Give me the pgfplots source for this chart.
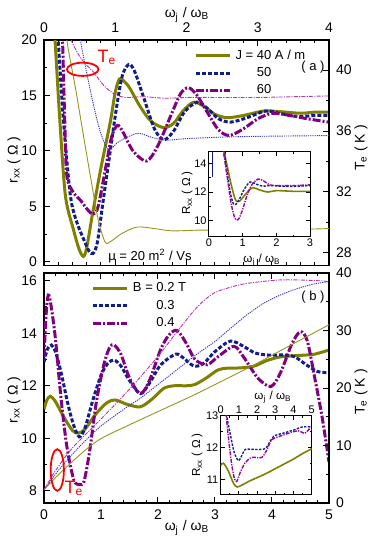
\documentclass[border=0pt]{standalone}
\usepackage{fontspec}
\setmainfont{Liberation Sans}
\usepackage{pgfplots}
\pgfplotsset{compat=1.18}

\definecolor{ol}{RGB}{128,128,0}
\definecolor{bl}{RGB}{16,30,140}
\definecolor{pu}{RGB}{128,0,128}
\definecolor{olt}{RGB}{150,150,30}
\definecolor{blt}{RGB}{50,50,200}
\definecolor{put}{RGB}{180,50,180}

\pgfplotsset{
  panel/.style={scale only axis, tick align=inside,
    axis line style={line width=0.7pt},
    every tick/.style={black, line width=0.5pt},
    major tick length=3pt, minor tick length=1.6pt,
    tick label style={font=\fontsize{7}{8}\selectfont},
    /pgf/number format/assume math mode=true},
  inset/.style={panel, axis background/.style={fill=white},
    major tick length=2pt, minor tick length=1.1pt,
    axis line style={line width=0.5pt},
    tick label style={font=\fontsize{5.5}{6}\selectfont, inner sep=1pt}},
  thick40/.style={ol, line width=1.5pt, smooth},
  thick50/.style={bl, line width=1.5pt, smooth, dash pattern=on 2pt off 1pt},
  thick60/.style={pu, line width=1.5pt, smooth, dash pattern=on 4pt off 1pt on 1pt off 1pt},
  thin40/.style={olt, line width=0.45pt, smooth},
  thin50/.style={blt, line width=0.45pt, smooth, dash pattern=on 0.6pt off 0.5pt},
  thin60/.style={put, line width=0.45pt, smooth, dash pattern=on 2pt off 0.6pt on 0.6pt off 0.6pt},
  leg/.style={legend style={draw=none, fill=none, font=\fontsize{6.5}{7}\selectfont,
      row sep=-1.5pt, inner sep=1pt},
    legend cell align=left,
    legend image code/.code={\draw[##1] (0pt,0pt) -- (17pt,0pt);}},
}

\begin{document}
\begin{tikzpicture}
\useasboundingbox (0,0) rectangle (187pt,271.5pt);

% ---------- panel (a) ----------
\begin{axis}[panel, leg, at={(22pt,138.85pt)}, anchor=south west,
  width=142.5pt, height=112.65pt,
  xmin=0, xmax=4, ymin=-0.3, ymax=20,
  xtick={0,1,2,3,4}, minor x tick num=4,
  ytick={0,5,10,15,20}, minor y tick num=1,
  xticklabel pos=upper, xtick pos=both, ytick pos=left,
  legend style={at={(rel axis cs:0.52,0.985)}, anchor=north west}]
\addplot[thick40] coordinates {(0.13,22) (0.155,20) (0.22,13) (0.30,6.0) (0.41,3.0) (0.49,1.2) (0.553,0.5) (0.6,1.3) (0.68,4.3) (0.80,8.5) (0.93,12.6) (1.0,15.3) (1.06,16.5) (1.12,16.3) (1.2,15.7) (1.35,14.0) (1.5,12.7) (1.68,12.1) (1.82,12.5) (1.95,13.6) (2.10,14.4) (2.25,14.0) (2.4,13.3) (2.57,13.0) (2.8,13.2) (3.08,13.6) (3.3,13.55) (3.6,13.4) (3.8,13.5) (4.0,13.5)};
\addplot[thick50] coordinates {(0.18,22) (0.2,20) (0.27,13) (0.37,6.0) (0.46,3.6) (0.56,2.0) (0.63,1.0) (0.69,0.78) (0.75,1.8) (0.83,5.5) (0.93,10.0) (1.02,14.0) (1.1,16.8) (1.19,17.8) (1.27,17.2) (1.4,14.8) (1.55,12.0) (1.68,11.0) (1.82,11.8) (1.97,13.5) (2.15,14.4) (2.3,13.8) (2.45,12.9) (2.62,12.6) (2.85,13.0) (3.11,13.6) (3.3,13.4) (3.56,13.1) (3.8,13.2) (4.0,13.2)};
\addplot[thick60] coordinates {(0.24,22) (0.26,20) (0.29,13) (0.32,7.8) (0.41,6.3) (0.52,5.5) (0.6,4.8) (0.69,4.3) (0.76,5.0) (0.86,8.3) (0.95,11.3) (1.03,12.3) (1.1,11.8) (1.25,10.0) (1.44,9.1) (1.6,10.5) (1.8,13.5) (1.92,15.2) (2.03,15.7) (2.15,15.0) (2.3,13.4) (2.45,11.9) (2.60,11.4) (2.8,12.0) (3.0,12.9) (3.21,13.4) (3.45,13.2) (3.7,12.9) (4.0,12.6)};
\legend{J = 40 A / m, \phantom{J = }50, \phantom{J = }60}
\end{axis}
\begin{axis}[panel, at={(22pt,138.85pt)}, anchor=south west,
  width=142.5pt, height=112.65pt,
  xmin=0, xmax=4, ymin=27.19, ymax=41.97,
  axis x line=none, axis y line*=right,
  ytick={28,32,36,40}, minor y tick num=1]
\addplot[thin40] coordinates {(0.30,44) (0.32,42) (0.45,38.6) (0.55,35.8) (0.66,32.8) (0.76,30.2) (0.86,28.7) (0.95,28.8) (1.1,29.3) (1.31,29.7) (1.55,29.6) (1.8,29.45) (2.2,29.5) (2.7,29.5) (3.2,29.55) (3.6,29.55) (4.0,29.6)};
\addplot[thin50] coordinates {(0.49,43) (0.51,42) (0.6,39.8) (0.70,37.6) (0.8,35.8) (0.91,34.8) (1.05,35.3) (1.31,35.85) (1.5,35.6) (1.70,35.4) (2.0,35.5) (2.5,35.6) (3.0,35.65) (4.0,35.7)};
\addplot[thin60] coordinates {(0.36,43) (0.38,42) (0.5,40.9) (0.6,40.3) (0.69,39.9) (0.8,39.2) (0.88,38.8) (1.0,38.4) (1.15,38.2) (1.4,38.25) (1.7,38.15) (2.0,38.2) (2.5,38.2) (3.0,38.2) (3.5,38.25) (4.0,38.3)};
\end{axis}

% inset (a)
\begin{axis}[inset, at={(104.5pt,153.15pt)}, anchor=south west,
  width=50.5pt, height=42.5pt,
  xmin=0, xmax=3, ymin=8.9, ymax=14.8,
  xtick={0,1,2,3}, minor x tick num=1,
  ytick={10,12,14}, minor y tick num=1]
\addplot[bl, line width=0.6pt] coordinates {(0.1,14.8) (0.1,13.07)};
\addplot[ol, line width=0.8pt, smooth] coordinates {(0.44,15.2) (0.45,14.8) (0.55,13.7) (0.65,12.6) (0.75,11.7) (0.82,11.35) (0.9,11.35) (1.05,11.75) (1.2,12.15) (1.32,12.3) (1.5,12.15) (1.75,12.0) (2.0,12.1) (2.5,12.05) (3.0,12.05)};
\addplot[bl, line width=0.7pt, smooth, dash pattern=on 1.2pt off 0.7pt] coordinates {(0.44,15.2) (0.45,14.8) (0.55,13.2) (0.63,12.0) (0.72,11.2) (0.8,11.15) (0.9,11.5) (1.05,12.2) (1.22,12.7) (1.4,12.55) (1.6,12.4) (1.8,12.45) (2.2,12.4) (2.6,12.4) (3.0,12.45)};
\addplot[pu!80!magenta, line width=0.7pt, smooth, dash pattern=on 2pt off 0.6pt on 0.6pt off 0.6pt] coordinates {(0.42,15.2) (0.43,14.8) (0.55,12.9) (0.65,11.3) (0.75,10.3) (0.82,10.05) (0.9,10.2) (1.0,10.8) (1.15,11.9) (1.3,12.6) (1.46,12.9) (1.6,12.8) (1.8,12.5) (2.0,12.45) (2.5,12.45) (3.0,12.5)};
\end{axis}

% ---------- panel (b) ----------
\begin{axis}[panel, leg, at={(22pt,20pt)}, anchor=south west,
  width=142.5pt, height=115pt,
  xmin=0, xmax=5, ymin=7.54, ymax=16.29,
  xtick={0,1,2,3,4,5}, minor x tick num=4,
  ytick={8,10,12,14,16}, minor y tick num=1,
  xtick pos=both, ytick pos=left,
  legend style={at={(rel axis cs:0.16,0.985)}, anchor=north west}]
\addplot[thick40] coordinates {(0,11.1) (0.05,11.45) (0.11,11.6) (0.2,11.4) (0.35,10.8) (0.5,10.3) (0.6,10.2) (0.72,10.35) (0.9,10.9) (1.1,11.35) (1.25,11.46) (1.45,11.3) (1.69,11.2) (1.9,11.5) (2.1,11.9) (2.28,12.0) (2.5,12.0) (2.65,12.05) (2.85,12.3) (3.05,12.6) (3.22,12.67) (3.45,12.68) (3.69,12.75) (3.9,12.95) (4.15,13.1) (4.45,13.15) (4.74,13.2) (5.0,13.36)};
\addplot[thick50] coordinates {(0,12.9) (0.06,13.4) (0.13,13.55) (0.2,13.3) (0.3,12.5) (0.42,11.3) (0.52,10.5) (0.62,10.06) (0.72,10.4) (0.85,11.4) (1.0,12.4) (1.12,12.85) (1.23,12.98) (1.35,12.75) (1.5,12.2) (1.69,11.7) (1.85,12.1) (2.05,12.8) (2.31,13.2) (2.45,13.05) (2.63,12.75) (2.8,12.85) (3.0,13.3) (3.27,13.7) (3.5,13.5) (3.7,13.25) (3.92,13.17) (4.2,13.17) (4.4,13.1) (4.6,12.8) (4.8,12.54) (5.0,12.5)};
\addplot[thick60] coordinates {(0,13.1) (0.04,14.8) (0.076,15.45) (0.12,15.1) (0.2,13.8) (0.3,11.5) (0.4,9.7) (0.5,8.6) (0.55,8.3) (0.62,8.25) (0.7,8.35) (0.8,9.5) (0.92,11.4) (1.05,12.8) (1.15,13.45) (1.23,13.55) (1.35,13.2) (1.5,12.3) (1.69,11.7) (1.85,12.2) (2.05,13.4) (2.2,13.95) (2.34,14.1) (2.5,13.6) (2.65,13.0) (2.86,12.8) (3.05,13.1) (3.33,13.5) (3.5,13.1) (3.75,12.3) (3.98,11.97) (4.15,12.5) (4.35,13.6) (4.5,14.06) (4.62,13.7) (4.75,12.3) (4.88,10.8) (5.0,9.1)};
\legend{B = 0.2 T, \phantom{B = }0.3, \phantom{B = }0.4}
\end{axis}
\begin{axis}[panel, at={(22pt,20pt)}, anchor=south west,
  width=142.5pt, height=115pt,
  xmin=0, xmax=5, ymin=0, ymax=40,
  axis x line=none, axis y line*=right,
  ytick={0,10,20,30,40}, minor y tick num=1]
\addplot[thin40] coordinates {(0,2.3) (0.2,4.4) (0.4,6.3) (0.7,9.0) (1.0,11.2) (1.5,13.6) (2.0,15.9) (2.57,18.5) (3.0,20.6) (3.68,24.0) (4.3,27.3) (5.0,31.0)};
\addplot[thin50] coordinates {(0,2.3) (0.2,5.0) (0.4,7.4) (0.7,10.6) (1.0,13.4) (1.4,16.3) (1.7,18.3) (2.0,20.6) (2.4,23.7) (2.7,26.0) (3.0,28.1) (3.3,30.6) (3.57,32.8) (3.85,34.7) (4.15,36.2) (4.45,37.3) (4.74,38.1) (5.0,38.5)};
\addplot[thin60] coordinates {(0,2.3) (0.2,5.6) (0.5,9.6) (1.0,14.6) (1.5,19.8) (2.0,25.5) (2.35,30.0) (2.69,34.1) (2.98,36.5) (3.3,37.6) (3.57,38.2) (4.15,38.8) (4.74,38.7) (5.0,38.5)};
\end{axis}

% inset (b)
\begin{axis}[inset, at={(110.35pt,24pt)}, anchor=south west,
  width=45.5pt, height=39.65pt,
  xmin=0, xmax=5, ymin=10.53, ymax=13,
  xtick={0,1,2,3,4,5}, minor x tick num=1,
  ytick={11,12,13}, minor y tick num=1,
  xticklabel pos=upper, xtick pos=both]
\addplot[ol, line width=0.8pt, smooth] coordinates {(0,11.45) (0.15,11.52) (0.4,11.3) (0.7,10.9) (0.9,10.78) (1.2,10.85) (1.6,10.97) (2.0,11.07) (2.5,11.2) (3.0,11.35) (3.5,11.5) (4.0,11.65) (4.5,11.82) (5.0,11.97)};
\addplot[bl, line width=0.7pt, smooth, dash pattern=on 1.2pt off 0.7pt] coordinates {(0.3,13.3) (0.33,13.0) (0.5,12.5) (0.7,11.95) (0.85,11.7) (1.0,11.6) (1.15,11.75) (1.35,11.95) (1.7,11.95) (2.2,11.95) (2.5,12.0) (2.9,12.35) (3.4,12.45) (4.0,12.55) (4.5,12.65) (5.0,12.65)};
\addplot[pu!80!magenta, line width=0.7pt, smooth, dash pattern=on 2pt off 0.6pt on 0.6pt off 0.6pt] coordinates {(0.28,13.3) (0.3,13.0) (0.45,12.2) (0.6,11.5) (0.75,11.05) (0.88,10.95) (1.05,11.2) (1.33,11.52) (1.7,11.7) (2.25,11.7) (2.55,11.95) (2.8,12.25) (3.2,12.35) (3.71,12.45) (4.26,12.53) (4.63,12.45) (4.85,12.58) (5.0,12.55)};
\end{axis}

% ---------- labels and annotations (pixel frame) ----------
\begin{scope}[x=0.5pt, y=-0.5pt, yshift=271.5pt, font=\fontsize{7}{8}\selectfont]
\node at (187,15) {ω\textsubscript{j} / ω\textsubscript{B}};
\node at (187,528) {ω\textsubscript{j} / ω\textsubscript{B}};
\node[rotate=90] at (14,160) {r\textsubscript{xx} ( Ω )};
\node[rotate=90] at (361,148) {T\textsubscript{e} ( K )};
\node[rotate=90] at (14,400) {r\textsubscript{xx} ( Ω )};
\node[rotate=90] at (361,392) {T\textsubscript{e} ( K )};
\node[font=\fontsize{6.5}{7}\selectfont] at (150,256) {μ = 20 m\textsuperscript{2} / Vs};
\node[font=\fontsize{6.5}{7}\selectfont] at (313,67) {( a )};
\node[font=\fontsize{6.5}{7}\selectfont] at (313,297) {( b )};
\node[red, font=\fontsize{9}{10}\selectfont] at (107,57) {T\textsubscript{e}};
\node[red, font=\fontsize{9}{10}\selectfont] at (74,488) {T\textsubscript{e}};
\draw[red, line width=0.9pt] (82.7,69.3) ellipse (7.9pt and 3.3pt);
\draw[red, line width=0.9pt] (57.3,470) ellipse (3.3pt and 10.4pt);
\node[rotate=90, font=\fontsize{5.8}{6.5}\selectfont] at (187,193) {R\textsubscript{xx} ( Ω )};
\node[font=\fontsize{5.8}{6.5}\selectfont] at (262,260) {ω\textsubscript{j} / ω\textsubscript{B}};
\node[rotate=90, font=\fontsize{5.8}{6.5}\selectfont] at (197,455) {R\textsubscript{xx} ( Ω )};
\node[font=\fontsize{5.8}{6.5}\selectfont] at (273,397) {ω\textsubscript{j} / ω\textsubscript{B}};
\end{scope}
\end{tikzpicture}
\end{document}
